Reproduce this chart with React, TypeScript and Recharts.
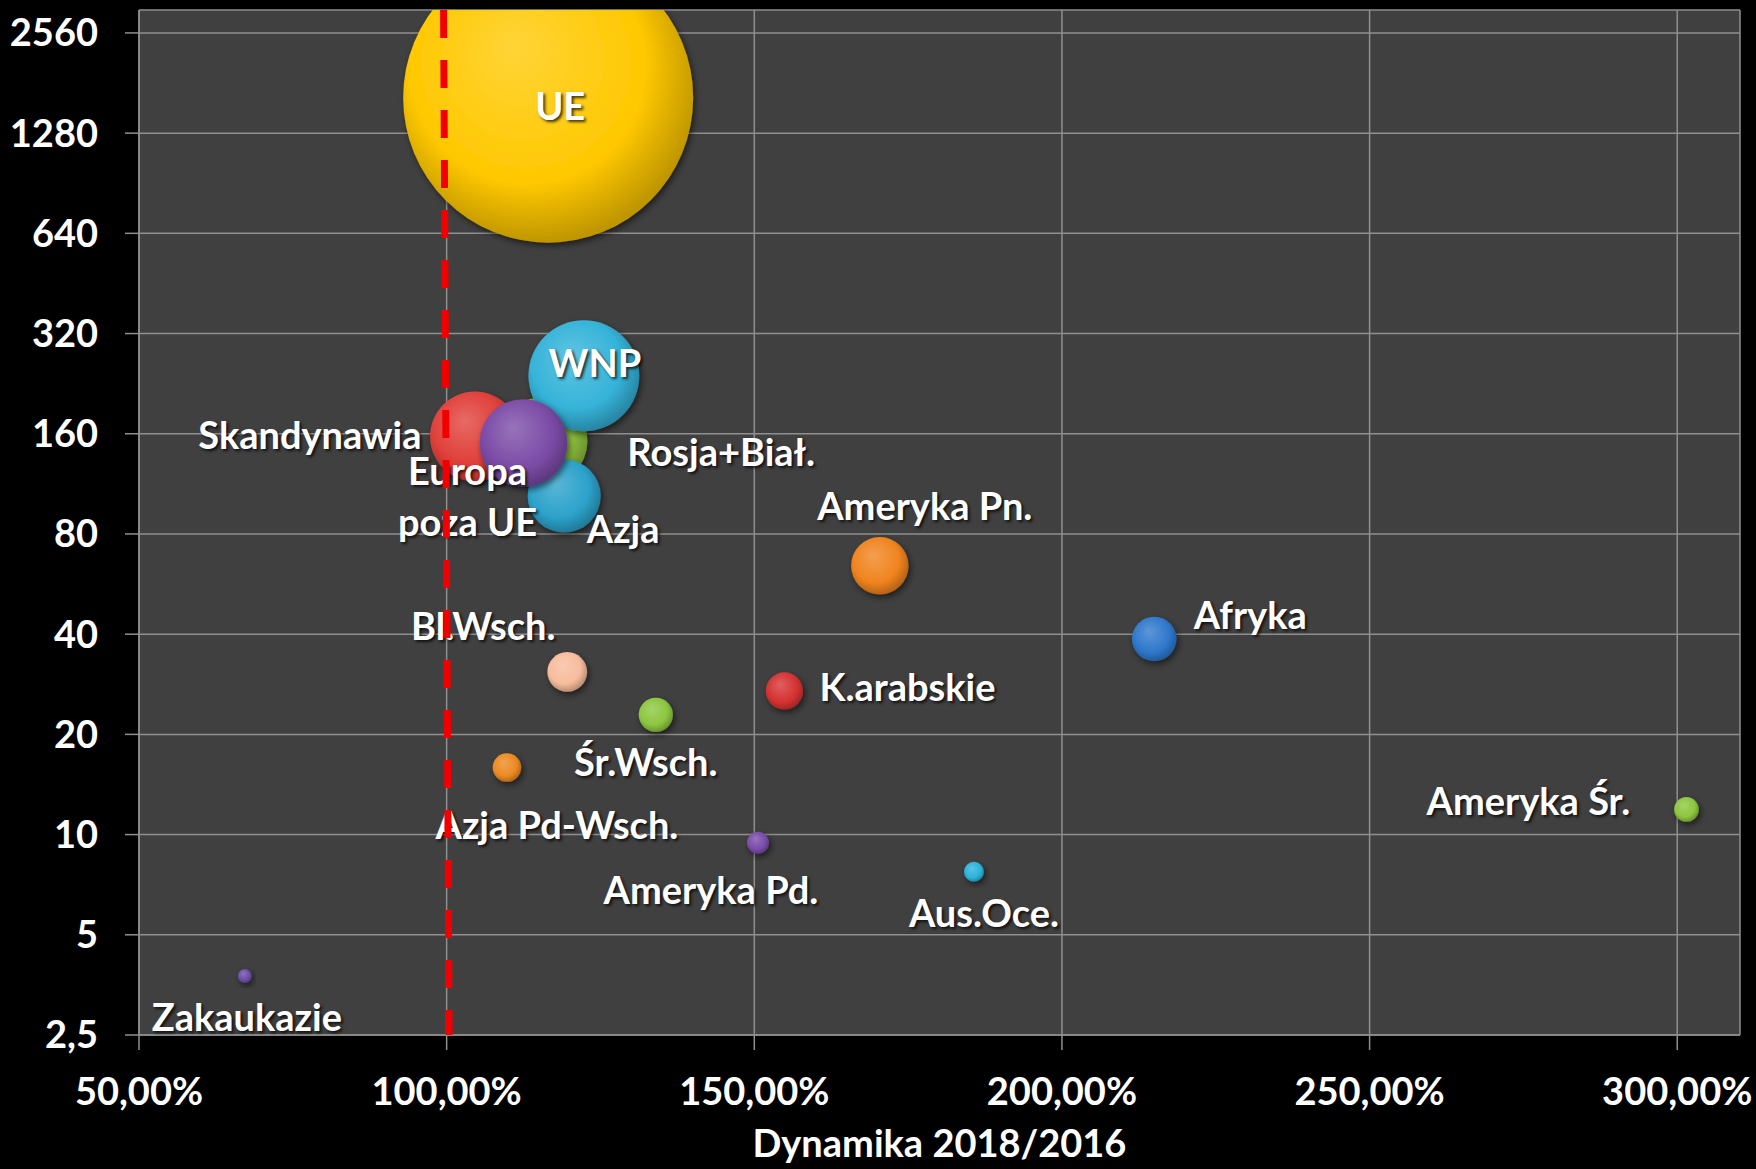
import React from 'react';
import { ScatterChart, Scatter, XAxis, YAxis, ZAxis, CartesianGrid, ReferenceLine } from 'recharts';

// ---- data ----
const regions = ['UE', 'Rosja+Biał.', 'WNP', 'Azja', 'Skandynawia', 'Europa poza UE', 'Ameryka Pn.', 'Afryka', 'Bl.Wsch.', 'K.arabskie', 'Śr.Wsch.', 'Azja Pd-Wsch.', 'Ameryka Śr.', 'Ameryka Pd.', 'Aus.Oce.', 'Zakaukazie'];
const dynamics = [1.165, 1.157, 1.223, 1.191, 1.046, 1.125, 1.704, 2.15, 1.196, 1.549, 1.34, 1.098, 3.015, 1.506, 1.857, 0.672];
const values = [1636, 152, 239, 104, 157, 150, 64.2, 38.7, 30.8, 27.0, 22.9, 15.9, 11.9, 9.45, 7.73, 3.76];
const colors = ['#FFC800', '#8DC03C', '#35B3D9', '#2CA2CB', '#E0403A', '#7B4BA6', '#F0841F', '#2F78CC', '#F7BC9C', '#D63232', '#8DC63F', '#EC8A22', '#8DC63F', '#7A4CAA', '#2DB2DC', '#6B4EA6'];
const xTicks = [0.5, 1, 1.5, 2, 2.5, 3];
const yTicks = [2.5, 5, 10, 20, 40, 80, 160, 320, 640, 1280, 2560];
const xTitle = 'Dynamika 2018/2016';

// label placement (offset of the label's cap-centre from the bubble centre, px)
const labelOffsets: Record<string, [number, number]> = {
  'UE': [12, 9],
  'Rosja+Biał.': [178, 11],
  'WNP': [11, -12],
  'Azja': [59, 33],
  'Skandynawia': [-165, -1],
  'Europa poza UE': [-56, 28],
  'Ameryka Pn.': [45, -59],
  'Afryka': [96, -24],
  'Bl.Wsch.': [-84, -46],
  'K.arabskie': [123, -4],
  'Śr.Wsch.': [-10, 48],
  'Azja Pd-Wsch.': [50, 58],
  'Ameryka Śr.': [-158, -8],
  'Ameryka Pd.': [-47, 48],
  'Aus.Oce.': [10, 42],
  'Zakaukazie': [2, 41],
};
const labelLines: Record<string, string[]> = { 'Europa poza UE': ['Europa', 'poza UE'] };

const data = regions.map((name, i) => ({ name, x: dynamics[i], y: values[i], z: values[i], color: colors[i] }));
const maxValue = Math.max(...values);
const maxRadius = 145;

const FONT = 'Lato, "Open Sans", sans-serif';
const FS = 38;
const GRID = '#8f8f8f';

function mix(hex: string, target: number, t: number) {
  const n = parseInt(hex.slice(1), 16);
  const r = (n >> 16) & 255, g = (n >> 8) & 255, b = n & 255;
  const f = (c: number) => Math.round(c + (target - c) * t);
  return `rgb(${f(r)},${f(g)},${f(b)})`;
}

const Bubble = (props: any) => {
  const { cx, cy, payload } = props;
  const size = props.size ?? 0;
  const r = props.width ? props.width / 2 : Math.sqrt(size / Math.PI);
  const idx = regions.indexOf(payload.name);
  const gid = `bg-${idx}`;
  const fid = `bs-${idx}`;
  const c = payload.color;
  return (
    <g>
      <defs>
        <radialGradient id={gid} cx="45%" cy="42%" r="58%" fx="38%" fy="32%">
          <stop offset="0%" stopColor={mix(c, 255, 0.22)} />
          <stop offset="70%" stopColor={c} />
          <stop offset="100%" stopColor={mix(c, 0, 0.25)} />
        </radialGradient>
        <filter id={fid} x="-30%" y="-30%" width="160%" height="160%">
          <feDropShadow dx="2" dy="3" stdDeviation="3" floodColor="#000" floodOpacity="0.55" />
        </filter>
      </defs>
      <circle cx={cx} cy={cy} r={r} fill={`url(#${gid})`} filter={`url(#${fid})`} />
    </g>
  );
};

const BubbleLabel = (props: any) => {
  const { cx, cy, payload } = props;
  const name = payload.name;
  const [dx, dy] = labelOffsets[name] || [0, 0];
  const lines = labelLines[name] || [name];
  const capHalf = FS * 0.716 / 2;
  return (
    <text
      x={cx + dx}
      y={cy + dy + capHalf}
      textAnchor="middle"
      fill="#ffffff"
      fontFamily={FONT}
      fontWeight={700}
      fontSize={FS}
      style={{ textShadow: '2px 2px 3px rgba(0,0,0,0.75)' }}
    >
      {lines.map((l, i) => (
        <tspan key={i} x={cx + dx} dy={i === 0 ? 0 : 51}>{l}</tspan>
      ))}
    </text>
  );
};

const fmtX = (v: number) => (v * 100).toFixed(2).replace('.', ',') + '%';
const fmtY = (v: number) => String(v).replace('.', ',');

const tickStyle = { fill: '#ffffff', fontSize: FS, fontWeight: 700, fontFamily: FONT };

export default function App() {
  const refLineProps: any = { zIndex: 2000 };
  return (
    <div style={{ position: 'absolute', left: 0, top: 0, width: 1756, height: 1169, background: '#000', overflow: 'hidden' }}>
      <ScatterChart width={1756} height={1169} margin={{ top: 10, right: 16, bottom: 0, left: 0 }}>
        <CartesianGrid stroke={GRID} strokeWidth={1.5} fill="#404040" />
        <XAxis
          type="number"
          dataKey="x"
          domain={[0.5, 3.102]}
          ticks={xTicks}
          allowDataOverflow
          tickFormatter={fmtX}
          height={134}
          tickSize={15}
          tickMargin={28}
          tick={tickStyle}
          tickLine={{ stroke: GRID, strokeWidth: 1.5 }}
          axisLine={{ stroke: GRID, strokeWidth: 1.5 }}
          label={{ value: xTitle, position: 'insideBottom', offset: 12, fill: '#ffffff', fontSize: FS, fontWeight: 700, fontFamily: FONT }}
        />
        <YAxis
          type="number"
          dataKey="y"
          scale="log"
          domain={[2.5, 3000]}
          ticks={yTicks}
          allowDataOverflow
          tickFormatter={fmtY}
          width={139}
          tickSize={14}
          tickMargin={27}
          tick={tickStyle}
          tickLine={{ stroke: GRID, strokeWidth: 1.5 }}
          axisLine={{ stroke: GRID, strokeWidth: 1.5 }}
        />
        <ZAxis type="number" dataKey="z" domain={[0, maxValue]} range={[0, Math.PI * maxRadius * maxRadius]} />
        <Scatter data={data} shape={Bubble} isAnimationActive={false} />
        <Scatter data={data} shape={BubbleLabel} isAnimationActive={false} />
        <ReferenceLine
          segment={[{ x: 0.995, y: 3000 }, { x: 1.004, y: 2.5 }]}
          stroke="#f20000"
          strokeWidth={7}
          strokeDasharray="28 22"
          ifOverflow="hidden"
          {...refLineProps}
        />
      </ScatterChart>
    </div>
  );
}
